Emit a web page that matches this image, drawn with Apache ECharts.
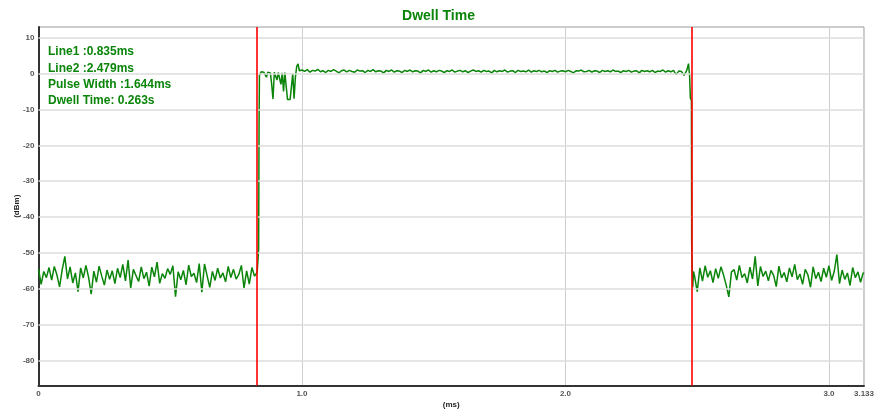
<!DOCTYPE html>
<html>
<head>
<meta charset="utf-8">
<script src="https://cdn.jsdelivr.net/npm/echarts@6/dist/echarts.min.js"></script>
<style>
html,body{margin:0;padding:0;background:#fff;}
#chart{width:877px;height:414px;}
</style>
</head>
<body>
<div id="chart"></div>
<script>
// ---------------- data ----------------
const titleText = 'Dwell Time';
const annotations = ['Line1 :0.835ms', 'Line2 :2.479ms', 'Pulse Width :1.644ms', 'Dwell Time: 0.263s'];
const markerTimes = [0.835, 2.479];           // ms
const xMin = 0, xMax = 3.133;                 // ms
const yMin = -87, yMax = 13;                  // dBm
const yTicks = [10, 0, -10, -20, -30, -40, -50, -60, -70, -80];
const sampleStep = 0.01;                      // ms
const fineStep = 0.005;                       // ms

// noise floor before pulse, t = 0.00 .. 0.83
const lowBefore = [
  -54.5,-58.8,-55.2,-56.9,-54.1,-57.6,-53.8,-56.2,-59.5,-54.7,
  -51.0,-57.3,-53.9,-58.4,-55.6,-60.8,-54.2,-57.0,-53.5,-56.8,
  -61.5,-55.1,-58.2,-53.7,-56.5,-59.0,-54.8,-57.4,-55.0,-58.6,
  -54.3,-56.9,-53.2,-57.8,-52.0,-59.8,-54.6,-56.3,-58.0,-53.9,
  -57.2,-55.4,-59.3,-54.0,-56.7,-52.6,-58.5,-55.8,-57.1,-54.4,
  -56.0,-53.6,-62.2,-55.3,-57.5,-54.9,-58.9,-53.4,-56.6,-55.7,
  -58.3,-53.0,-61.0,-53.1,-56.4,-59.6,-55.2,-57.7,-54.3,-57.0,
  -55.6,-58.1,-53.8,-56.9,-54.6,-57.3,-56.1,-53.5,-59.8,-55.0,
  -58.7,-54.1,-56.5,-55.4
];
// rising edge [ms, dBm]
const riseEdge = [[0.835,-55.5],[0.8355,-49.0],[0.837,-15.5],[0.8385,-0.5]];
// start of pulse, t = 0.840 .. 0.995 (fine step)
const pulseStart = [
  0.0,0.5,0.6,0.4,0.5,-1.0,0.4,0.5,0.2,-3.0,
  -7.1,0.4,0.5,-1.8,0.3,0.5,-3.0,0.2,-5.0,0.3,
  0.2,-7.2,-7.3,-7.2,-7.3,0.0,-7.0,-1.0,2.0,2.7,
  0.8,1.2
];
// top of pulse, t = 1.00 .. 2.46
const pulseTop = [
  1.0,0.6,1.1,0.4,0.9,0.7,1.2,0.5,0.8,0.3,
  0.9,0.6,1.1,0.7,0.2,0.8,1.0,0.5,0.9,0.6,
  0.4,1.0,0.7,0.8,0.3,0.9,0.6,1.1,0.5,0.8,
  0.7,0.2,0.9,0.6,1.0,0.4,0.8,0.7,0.3,0.9,
  0.6,1.0,0.5,0.8,0.7,0.2,0.9,0.6,1.0,0.4,
  0.8,0.5,0.9,0.7,0.3,0.8,0.6,1.0,0.4,0.7,
  0.9,0.5,0.8,0.3,0.7,1.0,0.6,0.8,0.4,0.9,
  0.6,0.7,0.2,0.9,0.5,0.8,0.6,1.0,0.4,0.7,
  0.8,0.3,0.9,0.6,0.7,0.5,1.0,0.4,0.8,0.6,
  0.9,0.5,0.7,0.3,0.8,0.6,0.9,0.4,0.7,0.8,
  0.5,0.9,0.6,0.2,0.8,0.7,1.0,0.5,0.6,0.9,
  0.4,0.8,0.7,0.3,0.9,0.6,0.8,0.5,1.0,0.6,
  0.7,0.3,0.8,0.6,0.9,0.4,0.7,0.8,0.2,0.9,
  0.6,0.8,0.5,0.9,0.3,0.7,0.6,1.0,0.4,0.8,
  0.5,0.9,-0.3,0.7,0.6,-0.5,0.8
];
// falling edge [ms, dBm]
const fallEdge = [[2.467,2.8],[2.471,-0.5],[2.474,-6.8],[2.478,-7.5],[2.479,-48.0],[2.483,-59.6],[2.486,-55.2]];
// noise floor after pulse, t = 2.49 .. 3.13
const lowAfter = [
  -56.5,-60.8,-54.2,-57.9,-53.6,-56.8,-55.0,-58.3,-54.4,-57.1,
  -53.9,-56.2,-59.0,-62.3,-55.3,-54.7,-57.6,-53.5,-56.9,-55.8,
  -58.4,-54.0,-57.3,-51.0,-59.2,-53.8,-56.6,-55.1,-57.8,-54.9,
  -56.3,-59.4,-53.7,-57.0,-55.5,-58.1,-54.2,-56.7,-53.2,-57.5,
  -55.9,-58.8,-54.6,-56.1,-59.6,-53.9,-57.2,-55.4,-58.0,-54.3,
  -56.8,-53.6,-57.7,-55.2,-50.5,-58.6,-54.8,-57.4,-55.6,-59.1,
  -54.1,-56.9,-55.3,-58.2,-55.5
];
const lastPoint = [3.133, -55.8];

// ---------------- build ----------------
function seg(t0, step, vals) {
  return vals.map((v, i) => [+(t0 + i * step).toFixed(4), v]);
}
const trace = [].concat(
  seg(0, sampleStep, lowBefore),
  riseEdge,
  seg(0.84, fineStep, pulseStart),
  seg(1.00, sampleStep, pulseTop),
  fallEdge,
  seg(2.49, sampleStep, lowAfter),
  [lastPoint]
);

const FONT = '"Liberation Sans", Arial, sans-serif';
const GREEN = '#0a850a';

const chart = echarts.init(document.getElementById('chart'), null, {renderer: 'canvas'});
chart.setOption({
  animation: false,
  backgroundColor: '#fff',
  title: {
    text: titleText, left: 'center', top: 4,
    textStyle: {color: GREEN, fontSize: 14, fontWeight: 'bold', fontFamily: FONT}
  },
  grid: {
    left: 38.5, right: 13, top: 27, bottom: 28.5,
    outerBoundsMode: 'none', containLabel: false,
    show: true, borderColor: '#999', borderWidth: 1
  },
  xAxis: {
    type: 'value', min: xMin, max: xMax, interval: 1,
    name: '(ms)', nameLocation: 'middle', nameGap: 15, nameMoveOverlap: false,
    nameTextStyle: {fontSize: 8, fontWeight: 'bold', color: '#222', fontFamily: FONT},
    axisLine: {show: true, onZero: false, lineStyle: {color: '#333', width: 2}},
    axisTick: {show: false},
    axisLabel: {
      fontSize: 8, fontWeight: 'bold', color: '#555', fontFamily: FONT, margin: 4,
      formatter: v => v === 0 ? '0' : (Math.abs(v - Math.round(v)) < 1e-9 ? v.toFixed(1) : String(v))
    },
    splitLine: {show: true, lineStyle: {color: '#cfcfcf', width: 1}}
  },
  yAxis: {
    type: 'value', min: yMin, max: yMax,
    name: '(dBm)', nameLocation: 'middle', nameGap: 18, nameRotate: 90, nameMoveOverlap: false,
    nameTextStyle: {fontSize: 8, fontWeight: 'bold', color: '#222', fontFamily: FONT},
    axisLine: {show: true, onZero: false, lineStyle: {color: '#333', width: 2}},
    axisTick: {show: false},
    axisLabel: {
      fontSize: 8, fontWeight: 'bold', color: '#555', fontFamily: FONT, margin: 4,
      customValues: yTicks,
      formatter: v => String(v)
    },
    splitLine: {show: false}
  },
  graphic: annotations.map((s, i) => ({
    type: 'text', left: 48, top: 46 + i * 16.3, z: 100,
    style: {text: s, fill: GREEN, font: 'bold 12px ' + FONT}
  })),
  series: [
    {
      type: 'line', data: [], z: 0,
      markLine: {
        silent: true, symbol: ['none', 'none'], animation: false,
        label: {show: false}, emphasis: {disabled: true},
        lineStyle: {color: '#dcdcdc', width: 1.5, type: 'solid'},
        data: yTicks.map(v => ({yAxis: v}))
      }
    },
    {
      type: 'line', data: [], z: 1,
      markLine: {
        silent: true, symbol: ['none', 'none'], animation: false,
        label: {show: false}, emphasis: {disabled: true},
        lineStyle: {color: '#ff0000', width: 1.6, type: 'solid'},
        data: markerTimes.map(t => ({xAxis: t}))
      }
    },
    {
      type: 'line', data: trace, z: 3,
      showSymbol: false, symbol: 'none', smooth: false,
      lineStyle: {color: GREEN, width: 1.5},
      emphasis: {disabled: true}
    }
  ]
});
</script>
</body>
</html>
